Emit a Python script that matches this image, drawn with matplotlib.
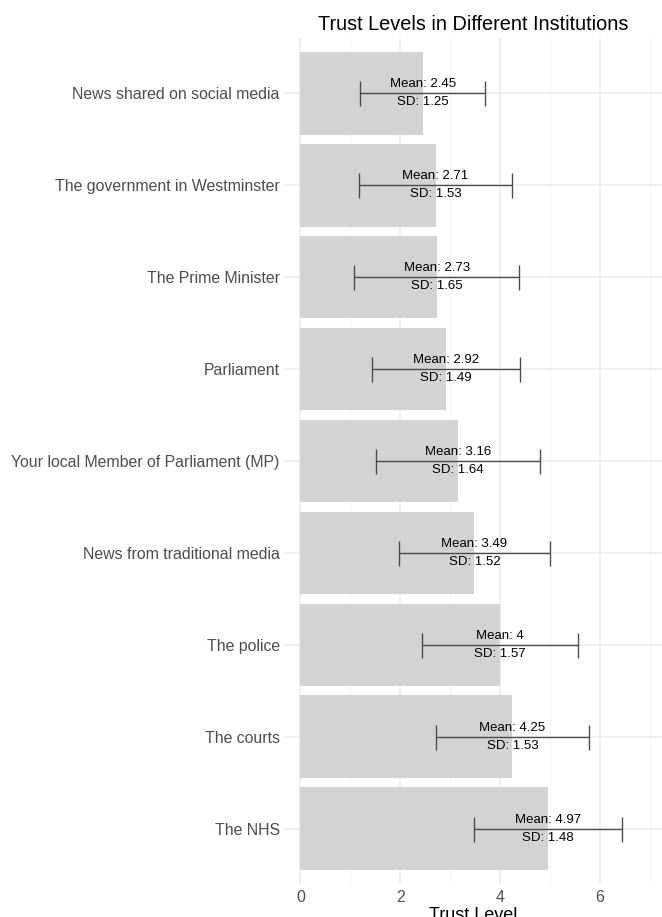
import matplotlib
matplotlib.use('Agg')
import matplotlib.pyplot as plt

plt.rcParams['font.family'] = ['Liberation Sans', 'DejaVu Sans']

# data (top to bottom)
institutions = ['News shared on social media', 'The government in Westminster',
                'The Prime Minister', 'Parliament',
                'Your local Member of Parliament (MP)', 'News from traditional media',
                'The police', 'The courts', 'The NHS']
means = [2.45, 2.71, 2.73, 2.92, 3.16, 3.49, 4.0, 4.25, 4.97]
sds = [1.25, 1.53, 1.65, 1.49, 1.64, 1.52, 1.57, 1.53, 1.48]
mean_labels = ['2.45', '2.71', '2.73', '2.92', '3.16', '3.49', '4', '4.25', '4.97']

fig = plt.figure(figsize=(6.62, 9.17), dpi=100)
ax = fig.add_axes([284/662, 1 - 884/917, 1 - 284/662, (884 - 38)/917])

n = len(institutions)
ypos = list(range(n, 0, -1))

ax.barh(ypos, means, height=0.9, color='#D3D3D3', zorder=2)
ax.errorbar(means, ypos, xerr=sds, fmt='none', ecolor='#4D4D4D', elinewidth=1,
            capsize=9, capthick=1, zorder=3)
for y, m, s, ml in zip(ypos, means, sds, mean_labels):
    ax.text(m, y + 0.03, 'Mean: ' + ml, ha='center', va='bottom', fontsize=9.5, color='black', zorder=4)
    ax.text(m, y - 0.03, 'SD: ' + str(s), ha='center', va='top', fontsize=9.5, color='black', zorder=4)

ax.set_xlim(-0.33, 7.25)
ax.set_ylim(0.4, n + 0.6)
ax.set_yticks(ypos)
ax.set_yticklabels(institutions, fontsize=11.4, color='#4D4D4D')
ax.set_xticks([0, 2, 4, 6])
ax.set_xticks([1, 3, 5, 7], minor=True)
ax.tick_params(axis='x', labelsize=11.5, colors='#4D4D4D', length=0, which='both', pad=4)
ax.tick_params(axis='y', length=0, pad=3)
ax.grid(True, which='major', color='#EBEBEB', linewidth=1.1, zorder=0)
ax.grid(True, which='minor', axis='x', color='#F2F2F2', linewidth=0.6, zorder=0)
for s in ax.spines.values():
    s.set_visible(False)

ax.set_xlabel('Trust Level', fontsize=13, labelpad=2)
ax.set_title('Trust Levels in Different Institutions', fontsize=14.3, pad=6)

fig.savefig('out.png', dpi=100)
